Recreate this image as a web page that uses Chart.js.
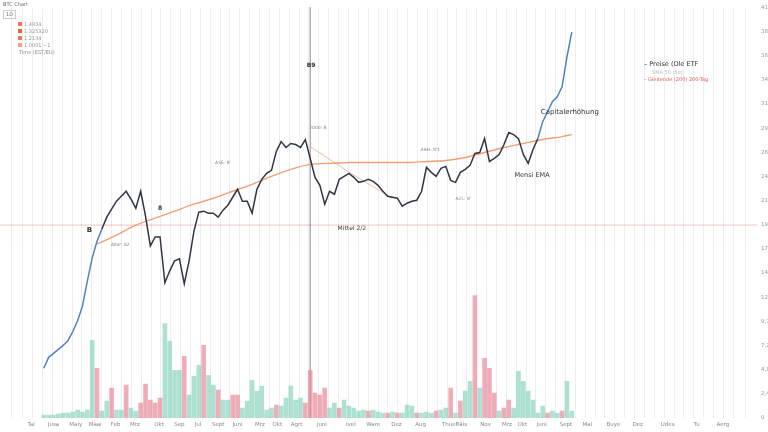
<!DOCTYPE html>
<html>
<head>
<meta charset="utf-8">
<script src="https://cdn.jsdelivr.net/npm/chart.js@4.4.1/dist/chart.umd.min.js"></script>
<style>
  html, body { margin: 0; padding: 0; background: #fff; overflow: hidden; width: 768px; height: 432px; }
  #wrap { position: relative; width: 800px; height: 432px; }
  .t { position: absolute; font-family: "DejaVu Sans", sans-serif; white-space: nowrap; line-height: 1; }
  .sq { position: absolute; width: 4px; height: 4px; background: #f07a50; }
</style>
</head>
<body>
<div id="wrap">
  <canvas id="c" width="800" height="432"></canvas>

  <div class="t" style="left:3px;top:2px;font-size:5px;color:#667;">BTC Chart</div>
  <div class="t" style="left:3px;top:10px;font-size:5px;color:#777;border:1px solid #ccc;padding:1px 2px;">1D</div>
  <div class="sq" style="left:18px;top:22px;"></div><div class="t" style="left:24px;top:22px;font-size:5px;color:#999;">1.4834</div>
  <div class="sq" style="left:18px;top:29px;background:#e8603c;"></div><div class="t" style="left:24px;top:29px;font-size:5px;color:#999;">1.325320</div>
  <div class="sq" style="left:18px;top:36px;"></div><div class="t" style="left:24px;top:36px;font-size:5px;color:#999;">1.2134</div>
  <div class="sq" style="left:18px;top:43px;background:#f3a090;"></div><div class="t" style="left:24px;top:43px;font-size:5px;color:#999;">1.0001 ~1</div>
  <div class="t" style="left:19px;top:50px;font-size:5px;color:#888;">Time (EST/EU)</div>

  <div class="t" style="left:644px;top:61px;font-size:6.5px;color:#333;">– Preise (Ole ETF</div>
  <div class="t" style="left:652px;top:70px;font-size:5px;color:#bbb;">SMA 50 (5d)</div>
  <div class="t" style="left:644px;top:77px;font-size:5px;color:#e05a5a;">– Gleitende (200) 200-Tag</div>
</div>

<script>
// price series, one point per step (index = step)
const price = [
  5000, 6100, 6500, 6900, 7300, 7800, 8700, 9800, 11300, 13800,
  16100, 17800, 19000, 20200, 21000, 21800, 22300, 22800, 22000, 21100,
  22800, 20300, 17300, 18200, 18200, 13600, 14800, 15800, 16000, 13500,
  15800, 18800, 20700, 20800, 20600, 20600, 20200, 20900, 21400, 22200,
  23000, 21800, 21800, 20600, 23000, 24000, 24600, 24900, 26800, 27800,
  27200, 27600, 27500, 27200, 28000, 26100, 24200, 23400, 21500, 22800,
  22500, 24000, 24300, 24600, 24200, 23700, 23800, 24000, 23800, 23400,
  22800, 22300, 22200, 22100, 21300, 21600, 21800, 21900, 22800, 25200,
  24700, 24300, 25100, 25300, 23900, 23700, 24700, 25000, 25400, 26600,
  26700, 28100, 25800, 26100, 26500, 27500, 28700, 28500, 28100, 26500,
  25600, 27000, 28100, 29800, 30800, 31800, 32300, 33300, 36300, 38800
];

// trading volume per step, and direction (g = up day, r = down day)
const volume = [
  3, 3, 3, 4, 5, 5, 6, 8, 6, 8,
  78, 50, 7, 17, 30, 8, 8, 33, 10, 7,
  15, 34, 18, 15, 20, 95, 77, 48, 48, 62,
  23, 42, 53, 73, 43, 33, 28, 18, 18, 23,
  23, 10, 17, 38, 27, 32, 8, 10, 13, 12,
  20, 32, 18, 20, 15, 48, 25, 23, 30, 10,
  15, 10, 18, 12, 10, 7, 8, 7, 8, 6,
  5, 5, 6, 5, 5, 13, 12, 5, 5, 6,
  5, 7, 8, 10, 30, 5, 17, 27, 37, 123,
  30, 60, 50, 25, 7, 10, 18, 10, 47, 37,
  27, 18, 5, 12, 5, 7, 5, 7, 37, 7
];
const direction =
  "gggggggggg" + "grggrggrgg" + "rrrrrggggr" + "gggrggrggr" + "rgggggggrg" +
  "ggggrrrrrg" + "grgggggrgg" + "grgrgggrgg" + "grggrgrggr" + "grrrgrrggg" +
  "ggggrggrgg";

// long moving average (sampled)
const maStep = [11, 15, 19, 23, 27, 31, 35, 39, 43, 47, 51, 55, 59, 63, 67, 71, 75, 79, 83, 87, 91, 95, 99, 103, 107, 109];
const maValue = [17500, 18400, 19400, 20100, 20800, 21500, 22100, 22800, 23500, 24300, 25000, 25500, 25600, 25700, 25700, 25700, 25700, 25800, 25900, 26200, 26700, 27200, 27600, 28000, 28300, 28500];

// trend line from the peak
const trendStep = [55, 63.4, 72];
const trendValue = [27300, 24600, 22100];

// support level and marked day
const supportLevel = 19400;
const markedStep = 55;

// x-axis tick positions and labels
const tickStep = [-2.6, 2, 6.6, 10.6, 14.8, 18.8, 23.8, 28, 31.8, 36, 40, 44.6, 48.2, 52.2, 57.4, 63.4,
  68, 72.8, 77.8, 83.6, 86.2, 91.2, 95.6, 98.8, 102.8, 107.8, 112.2, 117.6, 122.6, 128.8, 134.8, 140.2];
const tickLabels = ["Tai", "Jusa", "Maiy", "Maai", "Feb", "Mrz", "Okt", "Sep", "Jul", "Sept", "Juni", "Mrz",
  "Okt", "Agrt", "Juni", "Ivel", "Ware", "Dez", "Aug", "Thue", "Räis", "Nov", "Mrz", "Okt", "Juni", "Sept",
  "Mai", "Buye", "Dez", "Udes", "Tu", "Aerg"];

// chart notes
const notes = [
  { text: "B", step: 9.4, value: 18900, size: 7, bold: true, color: "#333" },
  { text: "8", step: 24, value: 21100, size: 6, bold: true, color: "#333" },
  { text: "Aller: 82", step: 15.8, value: 17400, size: 4.5, color: "#888" },
  { text: "ASE: 8'", step: 37, value: 25700, size: 4.5, color: "#888" },
  { text: "B9", step: 55.2, value: 35500, size: 6, bold: true, color: "#333" },
  { text: "2000: B", step: 56.6, value: 29200, size: 4.5, color: "#888" },
  { text: "Mittel 2/2", step: 63.6, value: 19100, size: 6, color: "#444" },
  { text: "AAH: 8'1", step: 79.8, value: 27000, size: 4.5, color: "#888" },
  { text: "A2L: 8'", step: 86.6, value: 22000, size: 4.5, color: "#888" },
  { text: "Mensi EMA", step: 100.8, value: 24400, size: 6.5, color: "#333" },
  { text: "Capitalerhöhung", step: 108.6, value: 30800, size: 7, color: "#333" }
];

const GREEN = "rgba(120, 205, 180, 0.6)";
const RED = "rgba(230, 130, 145, 0.65)";

const overlay = {
  id: "overlay",
  beforeDatasetsDraw(chart) {
    const { ctx, chartArea, scales } = chart;
    const y = scales.y.getPixelForValue(supportLevel);
    const x = scales.x.getPixelForValue(markedStep);
    ctx.save();
    ctx.strokeStyle = "rgba(225, 120, 120, 0.45)";
    ctx.lineWidth = 1;
    ctx.beginPath();
    ctx.moveTo(chartArea.left, y);
    ctx.lineTo(chartArea.right, y);
    ctx.stroke();
    ctx.strokeStyle = "rgba(90, 90, 100, 0.7)";
    ctx.beginPath();
    ctx.moveTo(x, chartArea.top);
    ctx.lineTo(x, chartArea.bottom);
    ctx.stroke();
    ctx.restore();
  },
  afterDatasetsDraw(chart) {
    const { ctx, scales } = chart;
    ctx.save();
    ctx.textAlign = "center";
    ctx.textBaseline = "middle";
    notes.forEach(n => {
      ctx.font = (n.bold ? "bold " : "") + n.size + 'px "DejaVu Sans", sans-serif';
      ctx.fillStyle = n.color;
      ctx.fillText(n.text, scales.x.getPixelForValue(n.step), scales.y.getPixelForValue(n.value));
    });
    ctx.restore();
  }
};

new Chart(document.getElementById("c"), {
  type: "bar",
  data: {
    datasets: [
      {
        type: "line",
        data: price.map((v, i) => ({ x: i, y: v })),
        borderColor: "#2f3645",
        borderWidth: 1.5,
        pointRadius: 0,
        segment: {
          borderColor: c => (c.p0DataIndex < 12 || c.p0DataIndex >= 102) ? "#4f82c2" : "#2f3645"
        },
        order: 1
      },
      {
        type: "line",
        data: maStep.map((s, i) => ({ x: s, y: maValue[i] })),
        borderColor: "rgba(238, 150, 105, 0.9)",
        borderWidth: 1.4,
        pointRadius: 0,
        cubicInterpolationMode: "monotone",
        order: 2
      },
      {
        type: "line",
        data: trendStep.map((s, i) => ({ x: s, y: trendValue[i] })),
        borderColor: "rgba(238, 150, 105, 0.8)",
        borderWidth: 0.8,
        pointRadius: 0,
        order: 3
      },
      {
        type: "bar",
        yAxisID: "yv",
        data: volume.map((v, i) => ({ x: i, y: v })),
        backgroundColor: direction.split("").map(d => d === "g" ? GREEN : RED),
        barThickness: 4,
        order: 4
      }
    ]
  },
  options: {
    responsive: false,
    animation: false,
    layout: { padding: { top: 5, left: 0, right: 0, bottom: 0 } },
    plugins: { legend: { display: false }, tooltip: { enabled: false } },
    scales: {
      x: {
        type: "linear",
        min: -6.6,
        max: 144.8,
        afterBuildTicks: s => { s.ticks = tickStep.map(v => ({ value: v })); },
        afterFit: s => { s.height = 14; },
        ticks: {
          autoSkip: false,
          maxRotation: 0,
          padding: 3,
          font: { size: 5.5, family: '"DejaVu Sans", sans-serif' },
          color: "#888",
          callback: (v, i) => tickLabels[i]
        },
        grid: { display: false, drawTicks: false },
        border: { display: false }
      },
      xg: {
        type: "linear",
        position: "bottom",
        min: -6.6,
        max: 144.8,
        afterFit: s => { s.height = 0; },
        ticks: { display: false, stepSize: 2 },
        grid: { color: "#eceef2", drawTicks: false },
        border: { display: false }
      },
      y: {
        position: "right",
        min: 0,
        max: 41300,
        afterFit: s => { s.width = 43; },
        ticks: {
          stepSize: 2500,
          padding: 4,
          font: { size: 5.5, family: '"DejaVu Sans", sans-serif' },
          color: "#999"
        },
        grid: { display: false, drawTicks: false },
        border: { display: false }
      },
      yv: {
        display: false,
        min: 0,
        max: 413
      }
    }
  },
  plugins: [overlay]
});
</script>
</body>
</html>
